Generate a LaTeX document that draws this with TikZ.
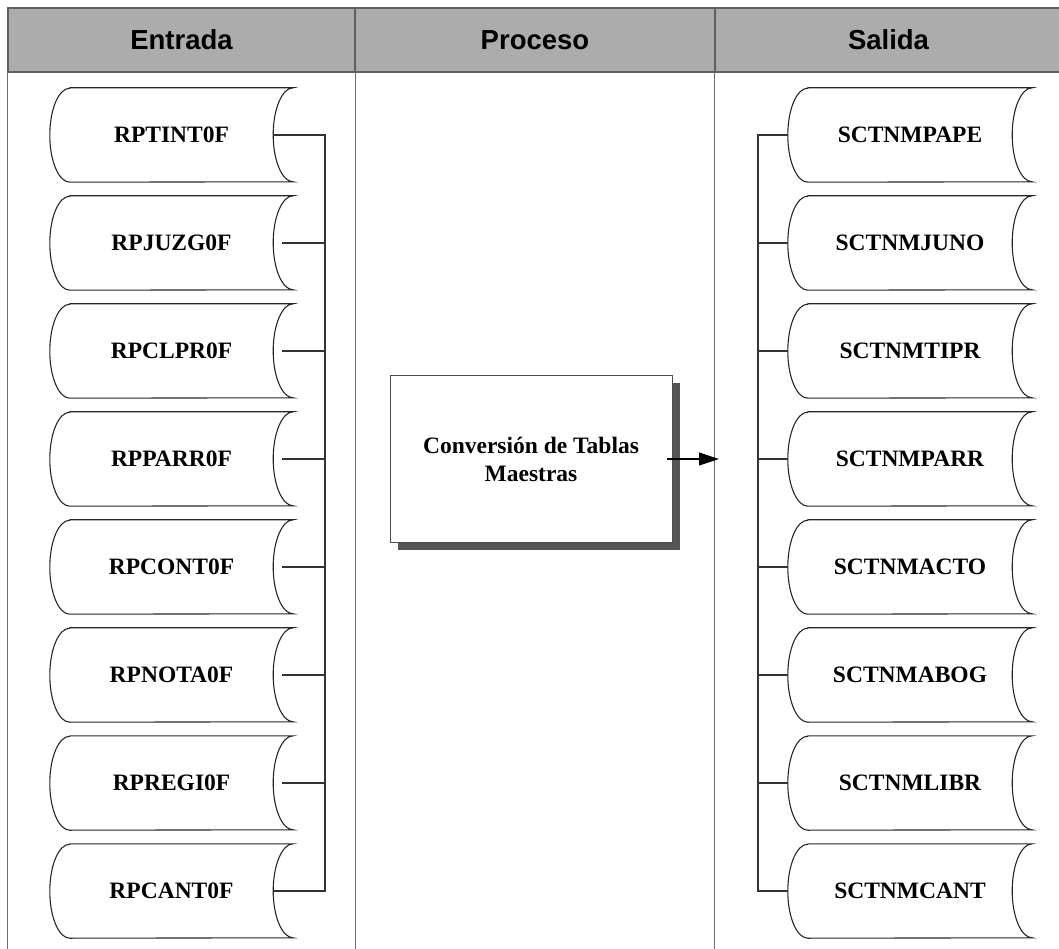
\documentclass[tikz,border=0pt]{standalone}
\usepackage{fontspec}
\setmainfont{Liberation Serif}
\newfontfamily\hfont{Liberation Sans}
\usetikzlibrary{arrows.meta,shadows}
\definecolor{hdrfill}{RGB}{172,172,172}
\definecolor{hdrline}{RGB}{95,95,95}
\definecolor{colline}{RGB}{110,110,110}
\definecolor{shadowc}{RGB}{85,85,85}
\tikzset{
  hdr/.style={draw=hdrline, line width=1.2pt, fill=hdrfill, minimum height=64pt, inner sep=0pt,
    font=\hfont\fontsize{27.5}{30}\selectfont\bfseries},
  store/.style={minimum width=243pt, minimum height=94pt, inner sep=0pt,
    font=\fontsize{23.5}{26}\selectfont\bfseries},
  shapeline/.style={draw=black!85, line width=1.1pt},
  conn/.style={draw=black!80, line width=1.1pt},
  colrule/.style={draw=colline, line width=1.3pt},
  procbox/.style={draw=black!70, line width=0.9pt, fill=white, minimum width=282pt, minimum height=167pt,
    align=center, font=\fontsize{23.5}{28}\selectfont\bfseries,
    drop shadow={shadow xshift=8pt, shadow yshift=-8pt, fill=shadowc, opacity=1}},
  flow/.style={draw=black, line width=1.1pt, -{Triangle[length=20pt,width=13pt]}}
}
\newcommand{\storeoutline}[1]{%
  \draw[shapeline] ([xshift=20pt]#1.north west) -- (#1.north east)
    arc[start angle=90, end angle=270, x radius=20pt, y radius=47pt]
    -- ([xshift=20pt]#1.south west)
    arc[start angle=270, end angle=90, x radius=20pt, y radius=47pt] -- cycle;}
\begin{document}
\begin{tikzpicture}[x=1pt,y=1pt]
\useasboundingbox (0,0) rectangle (1059,948);
% headers
\node[hdr, minimum width=347pt] (h1) at (181.5,908) {Entrada};
\node[hdr, minimum width=360pt] (h2) at (535,908) {Proceso};
\node[hdr, minimum width=347pt] (h3) at (888.5,908) {Salida};
% column rules
\coordinate (bot) at (0,-2);
\draw[colrule] (h1.south west) -- (h1.south west |- bot);
\draw[colrule] (h1.south east) -- (h1.south east |- bot);
\draw[colrule] (h3.south west) -- (h3.south west |- bot);
% input stores
\node[store] (i1) at (171.5,813) {RPTINT0F};
\node[store] (i2) at (171.5,705) {RPJUZG0F};
\node[store] (i3) at (171.5,597) {RPCLPR0F};
\node[store] (i4) at (171.5,489) {RPPARR0F};
\node[store] (i5) at (171.5,381) {RPCONT0F};
\node[store] (i6) at (171.5,273) {RPNOTA0F};
\node[store] (i7) at (171.5,165) {RPREGI0F};
\node[store] (i8) at (171.5,57) {RPCANT0F};
% output stores
\node[store, minimum width=244pt] (o1) at (910,813) {SCTNMPAPE};
\node[store, minimum width=244pt] (o2) at (910,705) {SCTNMJUNO};
\node[store, minimum width=244pt] (o3) at (910,597) {SCTNMTIPR};
\node[store, minimum width=244pt] (o4) at (910,489) {SCTNMPARR};
\node[store, minimum width=244pt] (o5) at (910,381) {SCTNMACTO};
\node[store, minimum width=244pt] (o6) at (910,273) {SCTNMABOG};
\node[store, minimum width=244pt] (o7) at (910,165) {SCTNMLIBR};
\node[store, minimum width=244pt] (o8) at (910,57) {SCTNMCANT};
\foreach \n in {i1,i2,i3,i4,i5,i6,i7,i8,o1,o2,o3,o4,o5,o6,o7,o8}{\storeoutline{\n}}
% left bus
\coordinate (lb) at (325,0);
\draw[conn] ([xshift=-20pt]i1.east) -- (i1.east -| lb) -- (i8.east -| lb) -- ([xshift=-20pt]i8.east);
\foreach \n in {i2,i3,i4,i5,i6,i7}{\draw[conn] ([xshift=-11pt]\n.east) -- (\n.east -| lb);}
% right bus
\coordinate (rb) at (758,0);
\draw[conn] (o1.west) -- (o1.west -| rb) -- (o8.west -| rb) -- (o8.west);
\foreach \n in {o2,o3,o4,o5,o6,o7}{\draw[conn] (\n.west) -- (\n.west -| rb);}
% process
\node[procbox] (p) at (531,489) {Conversión de Tablas\\Maestras};
\coordinate (tip) at (719,0);
\draw[flow] ([xshift=-5pt]p.east) -- (p.east -| tip);
\end{tikzpicture}
\end{document}
